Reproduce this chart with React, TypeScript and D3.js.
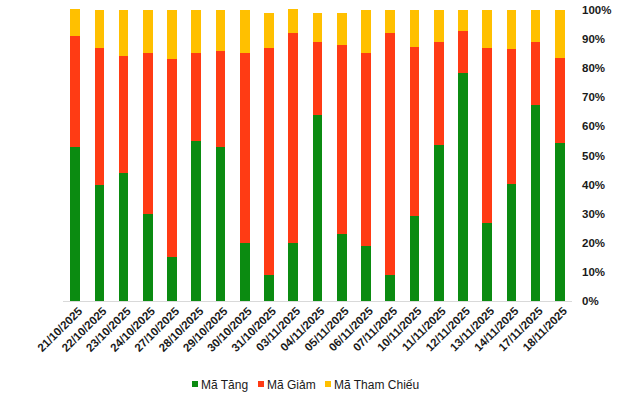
import { useEffect, useRef } from 'react';
import * as d3 from 'd3';

// Dữ liệu (tỷ lệ %, cộng dồn theo từng phiên)
const dates = [
  '21/10/2025', '22/10/2025', '23/10/2025', '24/10/2025', '27/10/2025', '28/10/2025',
  '29/10/2025', '30/10/2025', '31/10/2025', '03/11/2025', '04/11/2025', '05/11/2025',
  '06/11/2025', '07/11/2025', '10/11/2025', '11/11/2025', '12/11/2025', '13/11/2025',
  '14/11/2025', '17/11/2025', '18/11/2025',
];
const maTang = [53.0, 39.9, 44.0, 30.0, 15.1, 55.0, 53.0, 19.9, 8.9, 19.9, 63.9, 23.1, 19.0, 8.9, 29.3, 53.6, 78.4, 26.8, 40.3, 67.4, 54.3];
const maGiam = [38.1, 47.0, 40.2, 55.2, 68.1, 30.2, 32.9, 65.3, 78.0, 72.2, 25.1, 64.9, 66.2, 83.2, 58.0, 35.4, 14.4, 60.1, 46.3, 21.6, 29.2];
const maThamChieu = [9.2, 13.1, 15.8, 14.8, 16.8, 14.8, 14.1, 14.8, 12.1, 8.2, 10.0, 11.0, 14.8, 7.9, 12.7, 11.0, 7.2, 13.1, 13.4, 11.0, 16.5];
const yTicks = [0, 10, 20, 30, 40, 50, 60, 70, 80, 90, 100];

const seriesNames = ['Mã Tăng', 'Mã Giảm', 'Mã Tham Chiếu'];
const colors = ['#0B8B11', '#FF3B14', '#FFC000'];

const FONT = '"Liberation Sans", Arial, sans-serif';

const Chart: any = () => {
  const svgRef = useRef<any>(null);

  useEffect(() => {
    const svg = d3.select(svgRef.current);
    svg.selectAll('*').remove();

    const left = 63, right = 572, top = 10, bottom = 301;

    const x = d3.scaleBand().domain(dates).range([left, right]).paddingInner(0.6).paddingOuter(0.3);
    const y = d3.scaleLinear().domain([0, 100]).range([bottom, top]);

    const rows = dates.map((d, i) => ({ date: d, a: maTang[i], b: maGiam[i], c: maThamChieu[i] }));
    const stack = d3.stack<any>().keys(['a', 'b', 'c']);
    const layers = stack(rows);

    // Cột chồng
    svg.append('g')
      .selectAll('g')
      .data(layers)
      .join('g')
      .attr('fill', (d, i) => colors[i])
      .selectAll('rect')
      .data((d) => d)
      .join('rect')
      .attr('x', (d: any) => x(d.data.date)!)
      .attr('width', x.bandwidth())
      .attr('y', (d) => y(d[1]))
      .attr('height', (d) => y(d[0]) - y(d[1]))
      .attr('shape-rendering', 'crispEdges');

    // Trục hoành
    svg.append('line')
      .attr('x1', left).attr('x2', right)
      .attr('y1', bottom + 0.5).attr('y2', bottom + 0.5)
      .attr('stroke', '#d9d9d9')
      .attr('stroke-width', 1);

    // Nhãn trục tung bên phải
    svg.append('g')
      .selectAll('text')
      .data(yTicks)
      .join('text')
      .attr('x', 582)
      .attr('y', (d) => y(d))
      .attr('dy', '0.35em')
      .attr('font-family', FONT)
      .attr('font-weight', 'bold')
      .attr('font-size', 11.5)
      .attr('fill', '#1a1a1a')
      .text((d) => `${d}%`);

    // Nhãn ngày xoay 45 độ
    svg.append('g')
      .selectAll('text')
      .data(dates)
      .join('text')
      .attr('transform', (d) => `translate(${x(d)! + x.bandwidth() / 2 + 5},${bottom + 8}) rotate(-45)`)
      .attr('text-anchor', 'end')
      .attr('dy', '0.35em')
      .attr('font-family', FONT)
      .attr('font-weight', 'bold')
      .attr('font-size', 11.5)
      .attr('fill', '#1a1a1a')
      .text((d) => d);

    // Chú thích
    const legendX = [192, 258, 325];
    const lg = svg.append('g');
    seriesNames.forEach((name, i) => {
      lg.append('rect')
        .attr('x', legendX[i]).attr('y', 381)
        .attr('width', 6).attr('height', 6)
        .attr('fill', colors[i]);
      lg.append('text')
        .attr('x', legendX[i] + 9).attr('y', 388.5)
        .attr('font-family', FONT)
        .attr('font-size', 12)
        .attr('fill', '#1a1a1a')
        .text(name);
    });
  }, []);

  return <svg ref={svgRef} width={641} height={395} />;
};

export default function App() {
  return (
    <div style={{ position: 'absolute', left: 0, top: 0, background: '#fff' }}>
      <Chart />
    </div>
  );
}
